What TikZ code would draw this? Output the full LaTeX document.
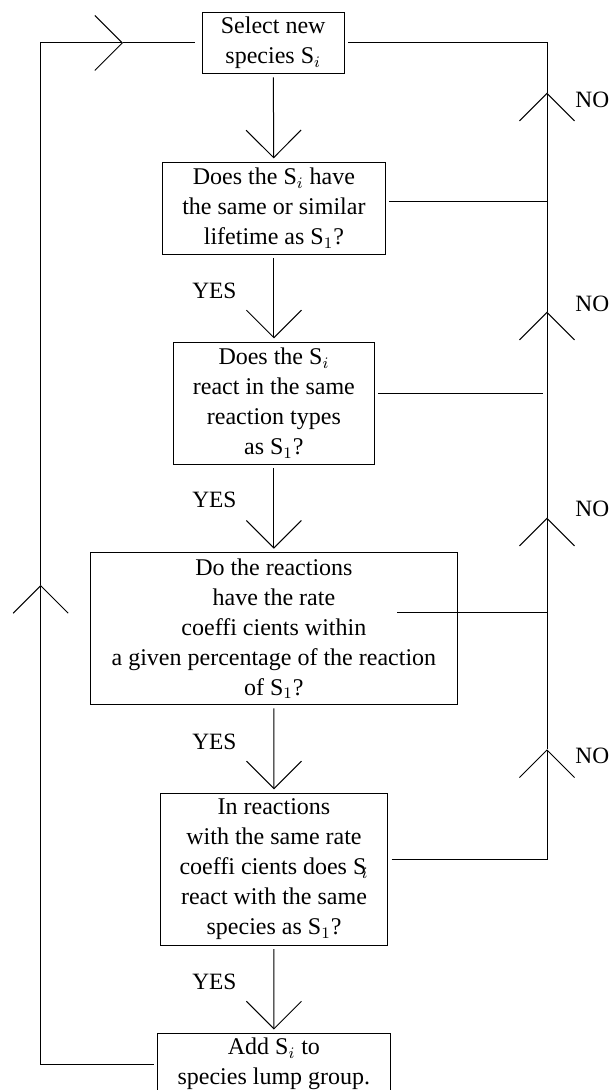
\documentclass[tikz,border=0pt]{standalone}
\usepackage{fontspec}
\setmainfont{Liberation Serif}
\usetikzlibrary{arrows.meta}
\tikzset{
  stepbox/.style={draw, line width=0.5pt, align=center, inner sep=1pt, outer sep=2pt,
    font=\fontsize{12}{15}\selectfont},
  lbl/.style={inner sep=0pt, font=\fontsize{11.7}{15}\selectfont},
  flow/.style={line width=0.5pt},
  barb/.style={flow, -{Straight Barb[length=13.75pt, width=27.5pt]}}
}
\begin{document}
\begin{tikzpicture}
    \useasboundingbox (0pt,0pt) rectangle (306pt,-545pt);
    % boxes
    \node[stepbox, minimum width=70.85pt, minimum height=30.5pt] (select) at (136.6pt, -21.5pt)
      {Select new\\ species S$_i$};
    \node[stepbox, minimum width=111.5pt, minimum height=45.85pt] (life) at (136.95pt, -104.1pt)
      {Does the S$_i$ have\\ the same or similar\\ lifetime as S$_1$?};
    \node[stepbox, minimum width=100.5pt, minimum height=60.85pt] (types) at (136.95pt, -201.6pt)
      {Does the S$_i$\\ react in the same\\ reaction types\\ as S$_1$?};
    \node[stepbox, minimum width=183.1pt, minimum height=75.8pt] (rate) at (136.95pt, -314.25pt)
      {Do the reactions\\ have the rate\\ coeffi cients within\\ a given percentage of the reaction\\ of S$_1$?};
    \node[stepbox, minimum width=113.65pt, minimum height=75.85pt] (partner) at (137pt, -434.6pt)
      {In reactions\\ with the same rate\\ coeffi cients does S\kern-0.2em$_i$\\ react with the same\\ species as S$_1$?};
    \node[stepbox, minimum width=116.15pt, minimum height=30.5pt] (lump) at (136.95pt, -532pt)
      {Add S$_i$ to\\ species lump group.};
    % points on the NO line and the return line
    \coordinate (no1) at (273.5pt, -46.35pt);
    \coordinate (no2) at (273.5pt, -155.85pt);
    \coordinate (no3) at (273.5pt, -258.85pt);
    \coordinate (no4) at (273.5pt, -374.65pt);
    \coordinate (j1) at (273.5pt, -101pt);
    \coordinate (j2) at (271.5pt, -197pt);
    \coordinate (j3) at (273.5pt, -306.35pt);
    \coordinate (j4) at (273.5pt, -429.65pt);
    \coordinate (ratein) at (198.5pt, -306.35pt);
    \coordinate (back) at (20.35pt, -292.5pt);
    \coordinate (loop) at (61.5pt, -21.5pt);
    % YES path
    \draw[barb] (select) -- (life);
    \draw[barb] (life) -- (types);
    \draw[barb] (types) -- (rate);
    \draw[barb] (rate) -- (partner);
    \draw[barb] (partner) -- (lump);
    \node[lbl] (yes1) at (107.2pt, -145.35pt) {YES};
    \node[lbl] (yes2) at (107.2pt, -250pt) {YES};
    \node[lbl] (yes3) at (107.2pt, -370.85pt) {YES};
    \node[lbl] (yes4) at (107.2pt, -490.85pt) {YES};
    % NO path
    \draw[flow] (life.east |- j1) -- (j1);
    \draw[flow] (types.east |- j2) -- (j2);
    \draw[flow] (ratein) -- (j3);
    \draw[barb] (partner.east |- j4) -| (no4);
    \draw[barb] (no4) -- (no3);
    \draw[barb] (no3) -- (no2);
    \draw[barb] (no2) -- (no1);
    \draw[flow] (no1) |- (select.east);
    \node[lbl, anchor=west] (nolbl1) at (287.5pt, -50pt) {NO};
    \node[lbl, anchor=west] (nolbl2) at (287.5pt, -152.15pt) {NO};
    \node[lbl, anchor=west] (nolbl3) at (287.5pt, -254.65pt) {NO};
    \node[lbl, anchor=west] (nolbl4) at (287.5pt, -378pt) {NO};
    % back to the start
    \draw[barb] (lump.west) -| (back);
    \draw[barb] (back) |- (loop);
    \draw[flow, shorten >=1.5pt] (loop) -- (select.west);
\end{tikzpicture}
\end{document}
